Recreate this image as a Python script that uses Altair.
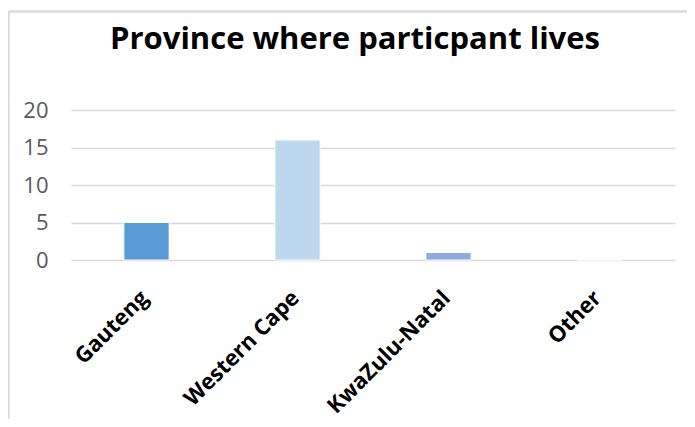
import altair as alt
import pandas as pd

provinces = ["Gauteng", "Western Cape", "KwaZulu-Natal", "Other"]
counts = [5, 16, 1, 0]
bar_colors = ["#5B9BD5", "#BDD7EE", "#8FAADC", "#A5A5A5"]

df = pd.DataFrame({"province": provinces, "count": counts})

W, H = 604, 150
PAD_L, PAD_T = 63, 102

bars = alt.Chart(df).mark_bar(stroke="white", strokeWidth=1).encode(
    x=alt.X("province:N", sort=provinces, title=None,
            scale=alt.Scale(paddingInner=0.7, paddingOuter=0.35),
            axis=alt.Axis(labelAngle=-45, labelAlign="right", labelBaseline="top",
                          labelFont="Open Sans", labelFontWeight="bold",
                          labelFontSize=22, labelColor="#000000",
                          labelPadding=27, labelOffset=-9,
                          ticks=False, domain=False, grid=False)),
    y=alt.Y("count:Q", title=None,
            scale=alt.Scale(domain=[0, 20]),
            axis=alt.Axis(values=[0, 5, 10, 15, 20], labelFont="Open Sans",
                          labelFontSize=22, labelColor="#595959", labelPadding=23,
                          ticks=False, domain=False, grid=True,
                          gridColor="#d9d9d9", gridWidth=1.3)),
    color=alt.Color("province:N", sort=provinces,
                    scale=alt.Scale(domain=provinces, range=bar_colors), legend=None),
)

border_top = alt.Chart(df).mark_rule(color="#d9d9d9", strokeWidth=1.5).encode(
    x=alt.value(-PAD_L + 0.5), x2=alt.value(W + 40),
    y=alt.value(-PAD_T + 3.5))
border_left = alt.Chart(df).mark_rule(color="#d9d9d9", strokeWidth=1.5).encode(
    x=alt.value(-PAD_L + 0.5), y=alt.value(-PAD_T + 3.5), y2=alt.value(H + 200))

chart = alt.layer(border_top, border_left, bars).properties(
    width=W, height=H,
    autosize=alt.AutoSizeParams(type="none"),
    padding={"left": PAD_L, "top": PAD_T, "right": 12, "bottom": 159},
    title=alt.TitleParams("Province where particpant lives", font="Open Sans",
                          fontWeight="bold", fontSize=31, color="#000000",
                          anchor="middle", baseline="alphabetic", dx=-18, offset=-69),
).configure_view(stroke=None)

chart.save("out.html", embed_options={"renderer": "svg", "actions": False})
